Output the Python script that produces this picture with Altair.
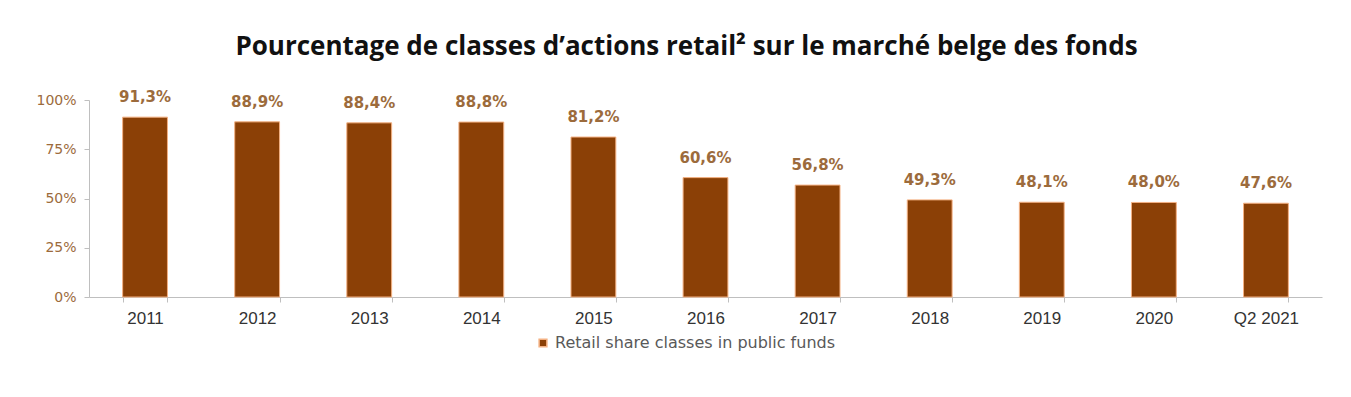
import altair as alt
import pandas as pd

categories = ["2011", "2012", "2013", "2014", "2015", "2016", "2017", "2018", "2019", "2020", "Q2 2021"]
values = [91.3, 88.9, 88.4, 88.8, 81.2, 60.6, 56.8, 49.3, 48.1, 48.0, 47.6]
series_name = "Retail share classes in public funds"

df = pd.DataFrame({
    "cat": categories,
    "val": values,
    "label": [f"{v:.1f}%".replace(".", ",") for v in values],
    "series": [series_name] * len(values),
})

x = alt.X("cat:N", sort=categories, title=None,
          scale=alt.Scale(paddingInner=0.6, paddingOuter=0.3),
          axis=alt.Axis(labelAngle=0, tickBand="extent", domainColor="#bfbfbf",
                        tickColor="#bfbfbf", tickSize=5, labelColor="#333333",
                        labelFont="Liberation Sans", labelFontSize=17, labelPadding=8))

bars = alt.Chart(df).mark_bar(stroke="#F4B183", strokeWidth=1, fill="#8B4006").encode(
    x=x,
    y=alt.Y("val:Q", title=None,
            scale=alt.Scale(domain=[0, 100]),
            axis=alt.Axis(values=[0, 25, 50, 75, 100], labelExpr="datum.value + '%'",
                          grid=False, domainColor="#bfbfbf", tickColor="#bfbfbf",
                          tickSize=5, labelColor="#9C6B3C", labelFont="DejaVu Sans",
                          labelFontSize=14, labelPadding=8)),
    color=alt.Color("series:N", scale=alt.Scale(range=["#8B4006"]),
                    legend=alt.Legend(title=None, orient="none", legendX=446, legendY=235,
                                      symbolType="square", symbolSize=60, labelLimit=0,
                                      labelFont="DejaVu Sans", labelFontSize=16,
                                      labelColor="#595959")),
)

text = alt.Chart(df).mark_text(baseline="bottom", dy=-12, fontWeight="bold",
                               font="DejaVu Sans", fontSize=15, color="#9C6B3C").encode(
    x=alt.X("cat:N", sort=categories),
    y=alt.Y("val:Q"),
    text="label:N",
)

chart = (bars + text).properties(
    width=1233, height=197,
    title=alt.TitleParams("Pourcentage de classes d’actions retail² sur le marché belge des fonds",
                          font="Open Sans", fontSize=26, fontWeight="bold", color="#111111",
                          anchor="middle", dx=-19, offset=30),
    autosize=alt.AutoSizeParams(type="none"),
    padding={"left": 81, "top": 92, "right": 20, "bottom": 80},
).configure_view(stroke=None)

chart.save("out.html", embed_options={"renderer": "svg", "actions": False})
